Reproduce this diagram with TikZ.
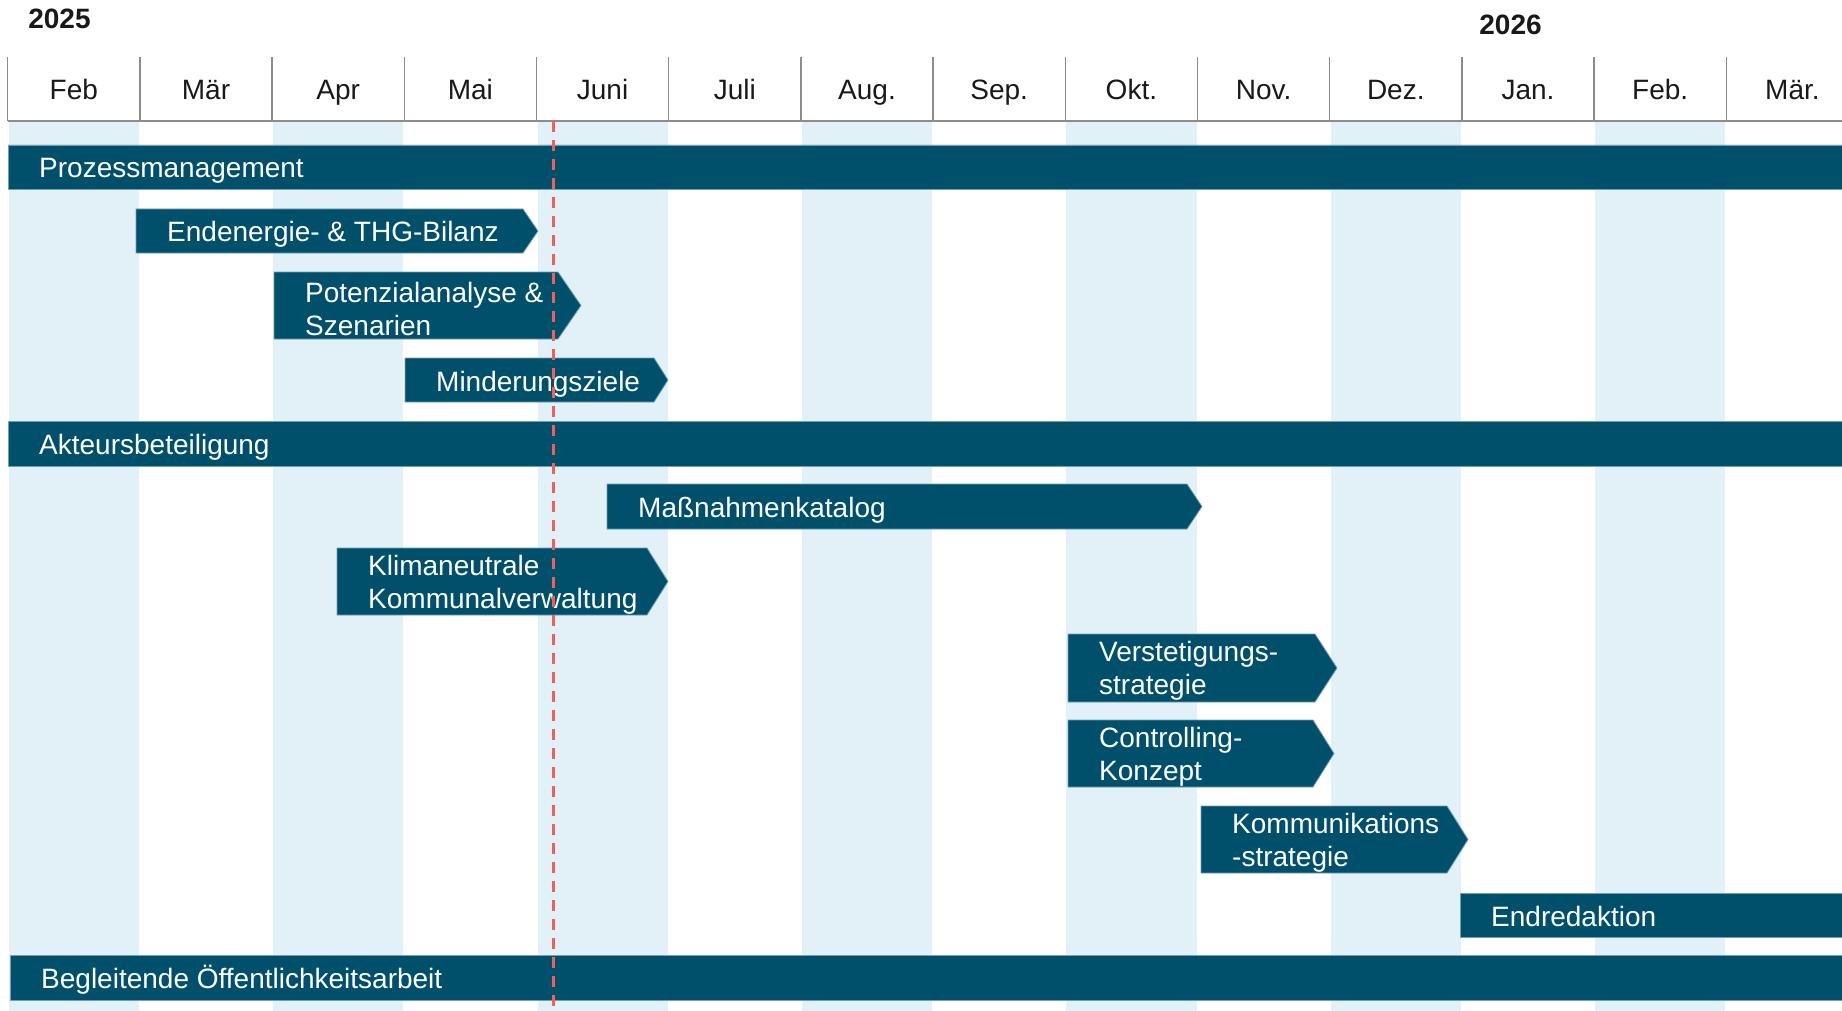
\documentclass[tikz,border=0pt]{standalone}
\usepackage{fontspec}
\setmainfont{Liberation Sans}
\usepackage{xcolor}
\usepackage{tikz}

\definecolor{barblue}{HTML}{00506B}
\definecolor{stripeblue}{HTML}{E2F0F7}
\definecolor{sepgray}{HTML}{8C8C8C}
\definecolor{todayred}{HTML}{F0605A}

\begin{document}
\begin{tikzpicture}[
    x=1pt, y=-1pt,
    stripe/.style={fill=stripeblue},
    sep/.style={draw=sepgray, line width=1.5pt},
    month/.style={anchor=base, font=\fontsize{28}{33}\selectfont, text=black!90},
    year/.style={anchor=base, font=\fontsize{28}{33}\selectfont\bfseries, text=black!90},
    bar/.style={fill=barblue, draw=barblue!55!white, line width=0.8pt},
    lbl/.style={anchor=west, inner sep=0pt, text=white, font=\fontsize{28}{33}\selectfont, text height=22pt, text depth=0pt},
    lbltwo/.style={anchor=west, align=left, inner sep=0pt, text=white, font=\fontsize{28}{33}\selectfont, yshift=-3pt},
    today/.style={draw=todayred, line width=3pt, dash pattern=on 11pt off 8pt}
]
    \clip (0,0) rectangle (1842,1011);

    % month stripes
    \foreach \i in {0,2,...,12}
        \fill [stripe] ({7.7+132.2*\i+1},122) rectangle ({7.7+132.2*(\i+1)-1},1011);

    % header
    \node [year] (y25) at (59.5,29) {2025};
    \node [year] (y26) at (1510.5,35) {2026};
    \foreach \m [count=\i from 0] in {Feb,Mär,Apr,Mai,Juni,Juli,Aug.,Sep.,Okt.,Nov.,Dez.,Jan.,Feb.,Mär.}
        \node [month] (m\i) at ({7.7+132.2*(\i+0.5)},100) {\m};
    \foreach \i in {0,...,13}
        \draw [sep] ({7.7+132.2*\i},57) -- ({7.7+132.2*\i},121);
    \draw [sep] (7.7,121) -- (1842,121);

    % one-line phases
    \foreach \nm/\xa/\xb/\xt/\ya/\yb/\txt in {
        pm/8/1850/1850/145/189/{Prozessmanagement},
        bil/136/523/538/209/253/{Endenergie- \& THG-Bilanz},
        mind/405/654/668/358/402/{Minderungsziele},
        akt/8/1850/1850/421/466/{Akteursbeteiligung},
        mass/607/1187/1202/484/529/{Maßnahmenkatalog},
        endr/1460/1850/1850/893/937/{Endredaktion},
        oeff/10/1850/1850/955/1000/{Begleitende Öffentlichkeitsarbeit}}
    {
        \path [bar] (\xa,\ya) -- (\xb,\ya) -- (\xt,{(\ya+\yb)/2}) -- (\xb,\yb) -- (\xa,\yb) -- cycle;
        \node [lbl] (\nm) at ({\xa+31},{(\ya+\yb)/2}) {\txt};
    }

    % two-line phases
    \foreach \nm/\xa/\xb/\xt/\ya/\yb/\txt in {
        pot/274/558/581/272/339/{Potenzialanalyse \&\\Szenarien},
        klima/337/647/668/548/615/{Klimaneutrale\\Kommunalverwaltung},
        verst/1068/1315/1337/634/702/{Verstetigungs-\\strategie},
        contr/1068/1313/1334/720/787/{Controlling-\\Konzept},
        komm/1201/1447/1468/806/873/{Kommunikations\\-strategie}}
    {
        \path [bar] (\xa,\ya) -- (\xb,\ya) -- (\xt,{(\ya+\yb)/2}) -- (\xb,\yb) -- (\xa,\yb) -- cycle;
        \node [lbltwo] (\nm) at ({\xa+31},{(\ya+\yb)/2}) {\txt};
    }

    % today marker
    \coordinate (nowtop) at (553,121);
    \coordinate (nowbot) at (553,1011);
    \draw [today] (nowtop) -- (nowbot);
\end{tikzpicture}
\end{document}
